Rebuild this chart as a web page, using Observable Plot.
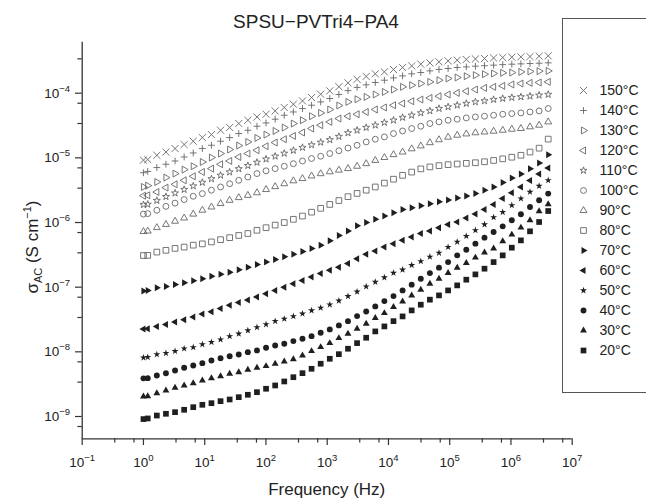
<!DOCTYPE html>
<html><head><meta charset="utf-8">
<script src="https://cdn.jsdelivr.net/npm/d3@7"></script>
<script src="https://cdn.jsdelivr.net/npm/@observablehq/plot@0.6"></script>
<style>
html,body{margin:0;padding:0;background:#fff;overflow:hidden}
#wrap{position:relative;width:646px;height:503px;overflow:hidden;background:#fff;font-family:"Liberation Sans",Arial,Helvetica,sans-serif;color:#222}
#chart{position:absolute;left:0;top:0}
#title{position:absolute;left:0;top:12px;width:632px;text-align:center;font-size:19px;line-height:19px;color:#222}
#legend{position:absolute;left:562px;top:18px;width:130px;height:375px;border:1px solid #555;box-sizing:border-box;background:#fff}
</style></head><body>
<div id="wrap"><div id="chart"></div><div id="title">SPSU−PVTri4−PA4</div><div id="legend"></div></div>
<script>
// Categories (temperatures, °C), top of legend first
const temps = [150, 140, 130, 120, 110, 100, 90, 80, 70, 60, 50, 40, 30, 20];
const filledTemps = [70, 60, 50, 40, 30, 20];

// Frequencies (Hz)
const freqs = [1, 1.175, 1.654, 2.329, 3.28, 4.618, 6.501, 9.155, 12.89, 18.15, 25.55, 35.97, 50.65, 71.32, 100.4, 141.4, 199.1, 280.3, 394.7, 555.7, 782.5, 1102, 1551, 2184, 3075, 4330, 6095, 8583, 12085, 17013, 23955, 33729, 47490, 66865, 94150, 132560, 186640, 262790, 370020, 521000, 733560, 1032800, 1454200, 2047500, 2882900, 4059200];

// log10 of sigma_AC (S/cm), one array per temperature
const log10Sigma150 = [-5.035, -5.026, -4.96, -4.91, -4.856, -4.794, -4.743, -4.686, -4.64, -4.573, -4.53, -4.469, -4.418, -4.367, -4.325, -4.274, -4.221, -4.170, -4.119, -4.067, -4.015, -3.964, -3.90, -3.84, -3.785, -3.74, -3.70, -3.670, -3.633, -3.602, -3.577, -3.551, -3.531, -3.515, -3.50, -3.489, -3.478, -3.470, -3.463, -3.455, -3.448, -3.443, -3.438, -3.433, -3.427, -3.422];
const log10Sigma140 = [-5.23, -5.21, -5.15, -5.099, -5.048, -4.986, -4.924, -4.856, -4.805, -4.743, -4.686, -4.624, -4.573, -4.511, -4.460, -4.402, -4.341, -4.290, -4.237, -4.186, -4.135, -4.082, -4.02, -3.96, -3.91, -3.87, -3.834, -3.799, -3.763, -3.732, -3.70, -3.680, -3.655, -3.633, -3.618, -3.602, -3.593, -3.582, -3.575, -3.566, -3.558, -3.551, -3.546, -3.541, -3.536, -3.53];
const log10Sigma130 = [-5.45, -5.43, -5.373, -5.305, -5.243, -5.181, -5.130, -5.064, -4.995, -4.933, -4.871, -4.810, -4.754, -4.692, -4.640, -4.584, -4.531, -4.469, -4.418, -4.356, -4.305, -4.252, -4.19, -4.135, -4.093, -4.057, -4.020, -3.98, -3.943, -3.902, -3.876, -3.850, -3.825, -3.799, -3.772, -3.757, -3.737, -3.721, -3.706, -3.695, -3.685, -3.680, -3.670, -3.664, -3.659, -3.655];
const log10Sigma120 = [-5.585, -5.579, -5.528, -5.46, -5.409, -5.347, -5.285, -5.218, -5.166, -5.099, -5.048, -4.986, -4.933, -4.882, -4.820, -4.763, -4.712, -4.661, -4.608, -4.546, -4.495, -4.444, -4.392, -4.356, -4.325, -4.290, -4.252, -4.221, -4.186, -4.159, -4.124, -4.098, -4.073, -4.046, -4.020, -3.995, -3.969, -3.943, -3.918, -3.902, -3.887, -3.865, -3.850, -3.840, -3.834, -3.825];
const log10Sigma110 = [-5.725, -5.718, -5.66, -5.60, -5.545, -5.49, -5.435, -5.38, -5.325, -5.27, -5.22, -5.17, -5.12, -5.07, -5.02, -4.975, -4.93, -4.885, -4.84, -4.80, -4.76, -4.72, -4.67, -4.614, -4.573, -4.531, -4.495, -4.454, -4.418, -4.376, -4.341, -4.305, -4.274, -4.237, -4.212, -4.186, -4.159, -4.135, -4.119, -4.098, -4.082, -4.067, -4.057, -4.046, -4.031, -4.02];
const log10Sigma100 = [-5.87, -5.862, -5.81, -5.75, -5.70, -5.645, -5.594, -5.553, -5.50, -5.45, -5.40, -5.347, -5.296, -5.243, -5.20, -5.166, -5.13, -5.09, -5.048, -5.01, -4.975, -4.933, -4.89, -4.848, -4.805, -4.754, -4.712, -4.676, -4.624, -4.584, -4.546, -4.511, -4.469, -4.444, -4.418, -4.402, -4.382, -4.367, -4.356, -4.341, -4.325, -4.315, -4.305, -4.29, -4.274, -4.237];
const log10Sigma90 = [-6.14, -6.132, -6.079, -6.03, -5.98, -5.93, -5.87, -5.81, -5.76, -5.707, -5.656, -5.615, -5.58, -5.54, -5.49, -5.445, -5.40, -5.355, -5.32, -5.28, -5.245, -5.215, -5.19, -5.166, -5.13, -5.09, -5.04, -4.995, -4.95, -4.91, -4.86, -4.815, -4.765, -4.72, -4.68, -4.65, -4.63, -4.612, -4.60, -4.588, -4.573, -4.557, -4.546, -4.52, -4.495, -4.444];
const log10Sigma80 = [-6.51, -6.508, -6.457, -6.43, -6.40, -6.38, -6.35, -6.33, -6.30, -6.265, -6.234, -6.20, -6.17, -6.12, -6.08, -6.04, -6.0, -5.95, -5.90, -5.84, -5.78, -5.72, -5.66, -5.60, -5.55, -5.50, -5.45, -5.39, -5.33, -5.27, -5.22, -5.17, -5.14, -5.12, -5.105, -5.095, -5.085, -5.075, -5.06, -5.04, -5.015, -4.99, -4.96, -4.91, -4.85, -4.71];
const log10Sigma70 = [-7.06, -7.05, -7.01, -6.99, -6.96, -6.93, -6.90, -6.87, -6.83, -6.80, -6.77, -6.73, -6.69, -6.65, -6.61, -6.57, -6.53, -6.49, -6.45, -6.40, -6.35, -6.28, -6.20, -6.13, -6.05, -6.0, -5.95, -5.90, -5.85, -5.80, -5.77, -5.74, -5.71, -5.68, -5.65, -5.62, -5.59, -5.55, -5.50, -5.45, -5.38, -5.31, -5.25, -5.17, -5.08, -4.95];
const log10Sigma60 = [-7.645, -7.643, -7.607, -7.576, -7.54, -7.503, -7.46, -7.416, -7.38, -7.33, -7.28, -7.235, -7.20, -7.15, -7.10, -7.05, -7.0, -6.946, -6.895, -6.844, -6.79, -6.74, -6.69, -6.635, -6.56, -6.49, -6.44, -6.38, -6.33, -6.276, -6.225, -6.17, -6.13, -6.08, -6.03, -5.99, -5.93, -5.87, -5.80, -5.72, -5.63, -5.54, -5.45, -5.35, -5.25, -5.156];
const log10Sigma50 = [-8.09, -8.082, -8.04, -8.02, -7.99, -7.95, -7.93, -7.885, -7.85, -7.81, -7.76, -7.72, -7.67, -7.62, -7.576, -7.525, -7.49, -7.45, -7.41, -7.36, -7.32, -7.27, -7.21, -7.14, -7.07, -6.99, -6.92, -6.85, -6.78, -6.73, -6.66, -6.60, -6.53, -6.47, -6.38, -6.30, -6.21, -6.12, -6.03, -5.92, -5.84, -5.734, -5.63, -5.527, -5.435, -5.347];
const log10Sigma40 = [-8.41, -8.407, -8.365, -8.330, -8.288, -8.246, -8.211, -8.175, -8.133, -8.098, -8.067, -8.040, -8.005, -7.978, -7.937, -7.901, -7.875, -7.834, -7.797, -7.757, -7.704, -7.653, -7.591, -7.525, -7.447, -7.375, -7.297, -7.215, -7.138, -7.050, -6.961, -6.869, -6.782, -6.698, -6.612, -6.508, -6.420, -6.327, -6.234, -6.147, -6.059, -5.966, -5.873, -5.760, -5.656, -5.553];
const log10Sigma30 = [-8.69, -8.686, -8.640, -8.598, -8.556, -8.520, -8.485, -8.443, -8.407, -8.376, -8.339, -8.314, -8.277, -8.246, -8.221, -8.184, -8.149, -8.113, -8.056, -7.989, -7.927, -7.865, -7.788, -7.720, -7.642, -7.565, -7.478, -7.401, -7.308, -7.220, -7.127, -7.039, -6.946, -6.869, -6.782, -6.698, -6.627, -6.543, -6.465, -6.40, -6.291, -6.187, -6.079, -5.966, -5.827, -5.718];
const log10Sigma20 = [-9.04, -9.03, -8.985, -8.958, -8.933, -8.896, -8.856, -8.819, -8.794, -8.763, -8.737, -8.701, -8.664, -8.624, -8.571, -8.520, -8.458, -8.392, -8.330, -8.262, -8.184, -8.107, -8.036, -7.952, -7.865, -7.782, -7.684, -7.607, -7.525, -7.452, -7.359, -7.271, -7.193, -7.127, -7.050, -6.972, -6.884, -6.802, -6.714, -6.612, -6.508, -6.389, -6.276, -6.136, -5.992, -5.822];

const seriesLog = [log10Sigma150, log10Sigma140, log10Sigma130, log10Sigma120, log10Sigma110, log10Sigma100, log10Sigma90, log10Sigma80, log10Sigma70, log10Sigma60, log10Sigma50, log10Sigma40, log10Sigma30, log10Sigma20];

// Tick values
const xMajor = [0.1, 1, 10, 100, 1e3, 1e4, 1e5, 1e6, 1e7];
const xMinor = [0.34, 0.7, 3.4, 7, 34, 70, 340, 700, 3400, 7000, 34000, 70000, 340000, 700000, 3400000, 7000000];
const yMajor = [1e-9, 1e-8, 1e-7, 1e-6, 1e-5, 1e-4];
const yMinor = [7e-10, 3.4e-9, 7e-9, 3.4e-8, 7e-8, 3.4e-7, 7e-7, 3.4e-6, 7e-6, 3.4e-5, 7e-5, 3.4e-4];
const xDomain = [0.1, 1e7];
const yDomain = [4.52e-10, 6.15e-4];

// Symbols
const sq3 = Math.sqrt(3);
const triRight = {draw(c, s) { const t = Math.sqrt(s / (3 * sq3)); c.moveTo(2 * t, 0); c.lineTo(-t, sq3 * t); c.lineTo(-t, -sq3 * t); c.closePath(); }};
const triLeft = {draw(c, s) { const t = Math.sqrt(s / (3 * sq3)); c.moveTo(-2 * t, 0); c.lineTo(t, sq3 * t); c.lineTo(t, -sq3 * t); c.closePath(); }};
const scaled = (base, f) => ({draw(c, s) { base.draw(c, s * f); }});
const symbolList = [
  scaled(d3.symbolTimes, 1.0), scaled(d3.symbolPlus, 0.5), scaled(triRight, 0.62), scaled(triLeft, 0.62),
  scaled(d3.symbolStar, 0.45), scaled(d3.symbolCircle, 0.8), scaled(d3.symbolTriangle, 0.6), scaled(d3.symbolSquare, 0.95),
  scaled(triRight, 0.62), scaled(triLeft, 0.62), scaled(d3.symbolStar, 0.45), scaled(d3.symbolCircle, 0.8),
  scaled(d3.symbolTriangle, 0.6), scaled(d3.symbolSquare, 0.95)
];

const rows = [];
temps.forEach((t, j) => seriesLog[j].forEach((v, i) => rows.push({temp: t, f: freqs[i], sigma: Math.pow(10, v), filled: filledTemps.includes(t)})));

const OPEN = "#666", FILL = "#1f1f1f", AX = "#333";
const fmt = d => "10^" + String(Math.round(Math.log10(d))).replace("-", "\u2212");

const chart = Plot.plot({
  width: 646, height: 503,
  marginLeft: 81.7, marginRight: 74.3, marginTop: 41.7, marginBottom: 64.7,
  style: {fontFamily: '"Liberation Sans", Arial, Helvetica, sans-serif', fontSize: "13.5px", color: "#222", background: "transparent", overflow: "visible"},
  x: {type: "log", domain: xDomain},
  y: {type: "log", domain: yDomain},
  symbol: {domain: temps, range: symbolList},
  marks: [
    Plot.axisX({ticks: xMinor, tickSize: 4.3, tickFormat: () => "", label: null, stroke: AX, strokeWidth: 1.2}),
    Plot.axisX({ticks: xMajor, tickSize: 6.7, tickPadding: 11.5, tickFormat: fmt, label: null, stroke: AX, strokeWidth: 1.2, fill: "#222"}),
    Plot.axisY({ticks: yMinor, tickSize: 4.3, tickFormat: () => "", label: null, stroke: AX, strokeWidth: 1.2}),
    Plot.axisY({ticks: yMajor, tickSize: 6.7, tickPadding: 5.5, tickFormat: fmt, label: null, stroke: AX, strokeWidth: 1.2, fill: "#222"}),
    Plot.ruleY([yDomain[0]], {stroke: AX, strokeWidth: 1.3}),
    Plot.ruleX([xDomain[0]], {stroke: AX, strokeWidth: 1.3}),
    Plot.dot(rows.filter(d => !d.filled), {x: "f", y: "sigma", symbol: "temp", r: 3.3, stroke: OPEN, strokeWidth: 0.9, fill: "none"}),
    Plot.dot(rows.filter(d => d.filled), {x: "f", y: "sigma", symbol: "temp", r: 3.3, fill: FILL, stroke: "none"})
  ]
});

const NS = "http://www.w3.org/2000/svg";
function tspan(txt, attrs) { const t = document.createElementNS(NS, "tspan"); t.textContent = txt; for (const k in attrs) t.setAttribute(k, attrs[k]); return t; }
chart.querySelectorAll('g[aria-label="x-axis tick label"] text, g[aria-label="y-axis tick label"] text').forEach(el => {
  const s = el.textContent; const parts = s.split("^");
  if (parts.length < 2) return;
  el.textContent = "";
  el.append(tspan(parts[0], {}), tspan(parts[1], {dy: "-5.8", "font-size": "9.5px"}));
});

// axis titles
const xl = document.createElementNS(NS, "text");
xl.setAttribute("x", 326.7); xl.setAttribute("y", 495); xl.setAttribute("text-anchor", "middle");
xl.setAttribute("font-size", "17px"); xl.setAttribute("fill", "#222"); xl.textContent = "Frequency (Hz)";
chart.append(xl);
const yl = document.createElementNS(NS, "text");
yl.setAttribute("transform", "translate(38,247) rotate(-90)"); yl.setAttribute("text-anchor", "middle");
yl.setAttribute("font-size", "17px"); yl.setAttribute("fill", "#222");
yl.append(tspan("\u03c3", {}), tspan("AC", {dy: "4", "font-size": "11px"}), tspan(" (S cm", {dy: "-4"}), tspan("\u22121", {dy: "-7", "font-size": "11px"}), tspan(")", {dy: "7"}));
chart.append(yl);

document.getElementById("chart").append(chart);

// legend
const legend = Plot.plot({
  width: 128, height: 373,
  margin: 0,
  style: {fontFamily: '"Liberation Sans", Arial, Helvetica, sans-serif', fontSize: "14px", color: "#222", background: "transparent"},
  y: {type: "point", domain: temps, range: [69.5, 332.7], padding: 0, axis: null},
  symbol: {domain: temps, range: symbolList},
  marks: [
    Plot.dot(temps.filter(t => !filledTemps.includes(t)), {y: d => d, symbol: d => d, frameAnchor: "left", dx: 20, r: 3.3, stroke: OPEN, strokeWidth: 0.9, fill: "none"}),
    Plot.dot(temps.filter(t => filledTemps.includes(t)), {y: d => d, symbol: d => d, frameAnchor: "left", dx: 20, r: 3.3, fill: FILL, stroke: "none"}),
    Plot.text(temps, {y: d => d, text: d => d + "\u00b0C", frameAnchor: "left", dx: 36, textAnchor: "start", fill: "#222", fontSize: 14})
  ]
});
document.getElementById("legend").append(legend);
</script></body></html>
